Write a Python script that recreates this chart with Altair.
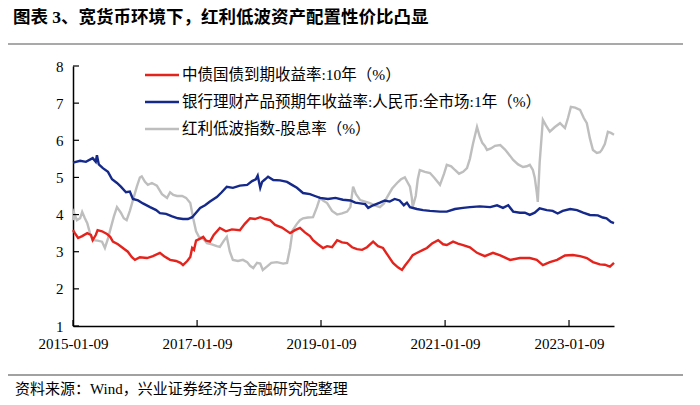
import altair as alt
import pandas as pd

TITLE = "图表 3、宽货币环境下，红利低波资产配置性价比凸显"
SOURCE = "资料来源：Wind，兴业证券经济与金融研究院整理"

SERIES = ["中债国债到期收益率:10年（%）",
          "银行理财产品预期年收益率:人民币:全市场:1年（%）",
          "红利低波指数-股息率（%）"]
COLORS = ["#E5231D", "#14298A", "#BEBEBE"]

X_TICKS = ["2015-01-09", "2017-01-09", "2019-01-09", "2021-01-09", "2023-01-09"]
Y_TICKS = [1, 2, 3, 4, 5, 6, 7, 8]

red_dates = ["2015-01-09","2015-01-20","2015-02-08","2015-03-04","2015-04-03","2015-04-25","2015-05-05","2015-05-23",
 "2015-06-03","2015-06-29","2015-07-28","2015-08-16","2015-09-01","2015-10-01","2015-10-30","2015-11-28","2015-12-22",
 "2016-01-09","2016-02-07","2016-03-20","2016-04-24","2016-06-04","2016-06-29","2016-08-03","2016-09-07","2016-10-03",
 "2016-10-18","2016-11-12","2016-11-30","2016-12-11","2016-12-22","2017-01-03","2017-01-27","2017-02-14","2017-03-02",
 "2017-03-26","2017-04-17","2017-05-23","2017-06-28","2017-08-02","2017-09-18","2017-10-17","2017-11-17","2017-12-16",
 "2018-01-16","2018-02-14","2018-03-15","2018-04-14","2018-05-24","2018-07-11","2018-08-09","2018-09-07","2018-10-06",
 "2018-11-05","2018-11-23","2018-12-22","2019-01-21","2019-02-14","2019-03-15","2019-04-14","2019-05-13","2019-06-12",
 "2019-07-11","2019-08-09","2019-09-08","2019-10-07","2019-11-12","2019-12-11","2020-01-09","2020-02-07","2020-03-08",
 "2020-04-06","2020-04-30","2020-05-17","2020-06-16","2020-07-02","2020-08-01","2020-09-01","2020-09-24","2020-10-24",
 "2020-11-29","2020-12-28","2021-01-19","2021-02-25","2021-03-26","2021-04-25","2021-06-04","2021-07-16","2021-08-31",
 "2021-10-18","2021-11-30","2022-01-27","2022-03-26","2022-05-23","2022-07-03","2022-08-08","2022-09-18","2022-10-31",
 "2022-12-16","2023-01-31","2023-03-15","2023-04-24","2023-05-30","2023-07-10","2023-08-08","2023-09-07","2023-10-01"]
red_vals = [3.58,3.50,3.37,3.42,3.50,3.45,3.31,3.45,
 3.58,3.55,3.48,3.40,3.27,3.20,3.10,3.00,2.85,
 2.78,2.85,2.83,2.88,2.97,2.88,2.78,2.75,2.70,
 2.64,2.75,2.86,3.10,3.05,3.30,3.35,3.40,3.30,
 3.27,3.45,3.64,3.55,3.60,3.58,3.75,3.90,3.88,
 3.93,3.88,3.85,3.72,3.65,3.50,3.58,3.64,3.52,
 3.42,3.31,3.20,3.10,3.15,3.12,3.31,3.25,3.23,
 3.12,3.07,3.05,3.12,3.27,3.15,3.10,2.90,2.70,
 2.58,2.51,2.62,2.80,2.91,2.98,3.05,3.10,3.22,
 3.31,3.20,3.18,3.27,3.22,3.18,3.12,2.97,2.88,
 2.97,2.90,2.78,2.83,2.83,2.78,2.64,2.72,2.78,
 2.90,2.91,2.88,2.83,2.72,2.66,2.65,2.60,2.70]

blue_dates = ["2015-01-09","2015-02-20","2015-03-26","2015-05-05","2015-05-23","2015-05-30","2015-06-10","2015-07-04",
 "2015-08-03","2015-08-27","2015-09-25","2015-10-18","2015-11-17","2015-12-10","2015-12-28","2016-01-27","2016-02-25",
 "2016-04-07","2016-05-13","2016-06-04","2016-07-10","2016-08-15","2016-09-18","2016-10-18","2016-11-16","2016-12-11",
 "2017-01-03","2017-01-27","2017-02-25","2017-03-26","2017-05-05","2017-06-03","2017-07-03","2017-08-08","2017-09-18",
 "2017-10-31","2017-11-29","2017-12-21","2018-01-01","2018-01-16","2018-01-27","2018-02-14","2018-03-03","2018-04-03",
 "2018-05-13","2018-06-23","2018-07-22","2018-08-20","2018-09-25","2018-11-05","2018-12-04","2019-01-03","2019-02-19",
 "2019-04-04","2019-05-18","2019-07-01","2019-07-30","2019-08-28","2019-09-26","2019-10-14","2019-11-12","2019-12-22",
 "2020-01-20","2020-02-18","2020-03-18","2020-04-16","2020-05-11","2020-05-29","2020-06-16","2020-07-27","2020-09-01",
 "2020-10-12","2020-12-10","2021-01-19","2021-03-08","2021-04-25","2021-06-04","2021-08-01","2021-10-02","2021-11-11",
 "2021-12-16","2022-01-16","2022-02-14","2022-03-26","2022-04-24","2022-05-23","2022-06-21","2022-07-20","2022-08-31",
 "2022-10-05","2022-11-03","2022-12-03","2023-01-16","2023-02-25","2023-04-02","2023-05-12","2023-06-28","2023-07-27",
 "2023-08-18","2023-09-13","2023-10-01"]
blue_vals = [5.40,5.45,5.42,5.52,5.42,5.60,5.35,5.25,
 5.15,4.95,4.85,4.75,4.60,4.62,4.42,4.38,4.30,
 4.20,4.12,4.04,4.02,3.95,3.90,3.88,3.88,3.93,
 4.05,4.18,4.25,4.35,4.47,4.60,4.75,4.72,4.78,
 4.80,4.90,4.95,5.05,4.72,4.88,4.95,5.02,4.93,
 4.92,4.88,4.80,4.72,4.58,4.55,4.50,4.45,4.42,
 4.45,4.40,4.38,4.32,4.30,4.28,4.18,4.25,4.32,
 4.38,4.35,4.42,4.38,4.25,4.32,4.20,4.15,4.12,
 4.10,4.08,4.08,4.15,4.18,4.20,4.22,4.20,4.25,
 4.18,4.25,4.08,4.05,4.05,3.99,4.05,4.17,4.12,
 4.10,4.03,4.10,4.15,4.12,4.05,3.99,3.98,3.92,
 3.90,3.80,3.77]

gray_dates = ["2015-01-09","2015-01-15","2015-02-01","2015-02-20","2015-03-04","2015-03-20","2015-04-03","2015-04-19",
 "2015-05-05","2015-06-03","2015-06-29","2015-07-16","2015-08-03","2015-08-16","2015-09-07","2015-09-25","2015-10-18",
 "2015-11-04","2015-11-21","2015-12-10","2015-12-28","2016-01-20","2016-02-07","2016-02-18","2016-03-08","2016-03-25",
 "2016-04-18","2016-05-17","2016-06-16","2016-07-16","2016-08-03","2016-08-22","2016-09-13","2016-10-13","2016-11-05",
 "2016-11-30","2016-12-17","2017-01-03","2017-01-20","2017-02-14","2017-03-08","2017-04-06","2017-05-05","2017-05-23",
 "2017-06-16","2017-07-03","2017-07-21","2017-08-08","2017-09-07","2017-10-06","2017-10-31","2017-11-17","2017-12-06",
 "2017-12-28","2018-01-16","2018-01-31","2018-02-24","2018-03-22","2018-04-24","2018-05-31","2018-06-23","2018-07-11",
 "2018-07-26","2018-08-20","2018-09-07","2018-09-25","2018-10-24","2018-11-23","2018-12-16","2019-01-03","2019-01-21",
 "2019-02-14","2019-03-15","2019-04-14","2019-05-13","2019-06-12","2019-07-01","2019-07-17","2019-08-03","2019-08-28",
 "2019-09-26","2019-10-24","2019-11-22","2019-12-22","2020-01-15","2020-01-31","2020-03-03","2020-04-01","2020-04-24",
 "2020-05-17","2020-06-04","2020-06-16","2020-06-27","2020-07-02","2020-07-20","2020-08-01","2020-08-13","2020-09-12",
 "2020-10-12","2020-11-05","2020-11-23","2020-12-10","2021-01-03","2021-01-19","2021-02-14","2021-03-08","2021-04-01",
 "2021-04-25","2021-05-18","2021-06-04","2021-06-22","2021-07-16","2021-08-01","2021-08-16","2021-08-31","2021-09-13",
 "2021-10-06","2021-10-30","2021-11-30","2021-12-28","2022-01-27","2022-02-14","2022-03-15","2022-04-13","2022-05-05",
 "2022-05-23","2022-06-10","2022-06-21","2022-07-03","2022-07-09","2022-07-20","2022-08-08","2022-08-26","2022-09-18",
 "2022-10-16","2022-11-17","2022-12-16","2023-01-03","2023-01-20","2023-02-14","2023-03-15","2023-04-06","2023-04-24",
 "2023-05-12","2023-05-30","2023-06-22","2023-07-10","2023-07-21","2023-08-08","2023-08-26","2023-09-13","2023-10-01"]
gray_vals = [3.85,4.05,3.85,3.90,4.07,3.90,3.77,3.50,
 3.31,3.30,3.27,3.10,3.35,3.58,3.95,4.20,4.05,
 3.90,3.85,4.10,4.39,4.75,5.00,5.03,4.88,4.80,
 4.85,4.78,4.55,4.45,4.60,4.53,4.50,4.50,4.45,
 4.31,3.90,3.55,3.40,3.35,3.23,3.20,3.15,3.13,
 3.30,3.40,3.00,2.78,2.75,2.78,2.72,2.62,2.56,
 2.70,2.68,2.51,2.60,2.70,2.72,2.68,2.70,3.10,
 3.58,3.75,3.85,3.90,3.92,3.93,4.20,4.45,4.38,
 4.31,4.10,4.00,4.03,4.08,4.20,4.75,4.55,4.39,
 4.35,4.31,4.25,4.20,4.30,4.45,4.70,4.85,4.95,
 5.00,4.85,4.75,4.45,4.20,4.50,4.95,5.20,5.15,
 5.12,5.00,4.90,4.80,5.10,5.34,5.30,5.20,5.10,
 5.15,5.25,5.50,5.90,6.36,6.10,5.93,5.85,5.74,
 5.78,5.85,5.87,5.75,5.58,5.47,5.35,5.28,5.30,
 5.34,5.20,5.00,4.60,4.34,5.40,6.55,6.40,6.23,
 6.35,6.46,6.33,6.60,6.90,6.88,6.82,6.60,6.46,
 6.05,5.74,5.66,5.68,5.74,5.90,6.23,6.20,6.15]

SERIF = "Liberation Serif"
CJK = "Liberation Serif, Noto Sans CJK SC"

frames = []
for name, d, v in zip(SERIES, [red_dates, blue_dates, gray_dates], [red_vals, blue_vals, gray_vals]):
    frames.append(pd.DataFrame({"date": d, "value": v, "series": name}))
df = pd.concat(frames, ignore_index=True)

W, H = 541, 260
color_scale = alt.Scale(domain=SERIES, range=COLORS)
x_scale = alt.Scale(type="utc", domain=[alt.DateTime(year=2015, month=1, date=9, utc=True),
                                          alt.DateTime(year=2023, month=10, date=1, utc=True)])
y_scale = alt.Scale(domain=[1, 8], nice=False, zero=False)

x_axis = alt.Axis(values=[alt.DateTime(year=int(t[:4]), month=int(t[5:7]), date=int(t[8:]), utc=True) for t in X_TICKS],
                  format="%Y-%m-%d", labelFlush=False, labelOverlap=False)
y_axis = alt.Axis(values=Y_TICKS)

def line_layer(name):
    return alt.Chart(df[df.series == name]).mark_line(strokeWidth=2.4).encode(
        x=alt.X("date:T", scale=x_scale, axis=x_axis),
        y=alt.Y("value:Q", scale=y_scale, axis=y_axis),
        color=alt.Color("series:N", scale=color_scale, legend=None),
    )

layers = [line_layer(SERIES[2]), line_layer(SERIES[0]), line_layer(SERIES[1])]

# inward ticks
xt = pd.DataFrame({"date": X_TICKS})
layers.append(alt.Chart(xt).mark_rule(color="black", strokeWidth=1.2).encode(
    x=alt.X("date:T", scale=x_scale, axis=x_axis), y=alt.value(H), y2=alt.value(H - 6)))
yt = pd.DataFrame({"value": Y_TICKS})
layers.append(alt.Chart(yt).mark_rule(color="black", strokeWidth=1.2).encode(
    y=alt.Y("value:Q", scale=y_scale, axis=y_axis), x=alt.value(0), x2=alt.value(6)))

# legend
for i, name in enumerate(SERIES):
    ld = pd.DataFrame({"series": [name]})
    layers.append(alt.Chart(ld).mark_rule(strokeWidth=2.4).encode(
        x=alt.value(72), x2=alt.value(106), y=alt.value(9 + 27 * i),
        color=alt.Color("series:N", scale=color_scale, legend=None)))
    layers.append(alt.Chart(ld).mark_text(align="left", baseline="middle", fontSize=15.5, font=CJK,
                                          color="black").encode(
        x=alt.value(109), y=alt.value(9 + 27 * i), text="series:N"))

# title, separators and source
layers.append(alt.Chart(pd.DataFrame({"t": [TITLE]})).mark_text(
    align="left", baseline="middle", fontSize=17.5, fontWeight="bold", font=CJK, color="black").encode(
    x=alt.value(-60), y=alt.value(-48), text="t:N"))
layers.append(alt.Chart(pd.DataFrame({"t": [TITLE]})).mark_rule(color="#555555", strokeWidth=1.2).encode(
    x=alt.value(-65), x2=alt.value(610), y=alt.value(-22)))
layers.append(alt.Chart(pd.DataFrame({"t": [SOURCE]})).mark_rule(color="#444444", strokeWidth=1.2).encode(
    x=alt.value(-65), x2=alt.value(610), y=alt.value(309)))
layers.append(alt.Chart(pd.DataFrame({"t": [SOURCE]})).mark_text(
    align="left", baseline="middle", fontSize=15, font=CJK, color="black").encode(
    x=alt.value(-58), y=alt.value(323), text="t:N"))

chart = alt.layer(*layers).properties(
    width=W, height=H,
    padding={"left": 65, "top": 58, "right": 78, "bottom": 76},
    autosize=alt.AutoSizeParams(type="none"),
).configure(background="white").configure_view(stroke=None).configure_axis(
    ticks=False, labelPadding=10, labelFontSize=15, labelFont=SERIF, labelColor="black",
    domainColor="black", domainWidth=1.5, grid=False, title=None,
)

chart.save("out.html", embed_options={"renderer": "svg", "actions": False})
